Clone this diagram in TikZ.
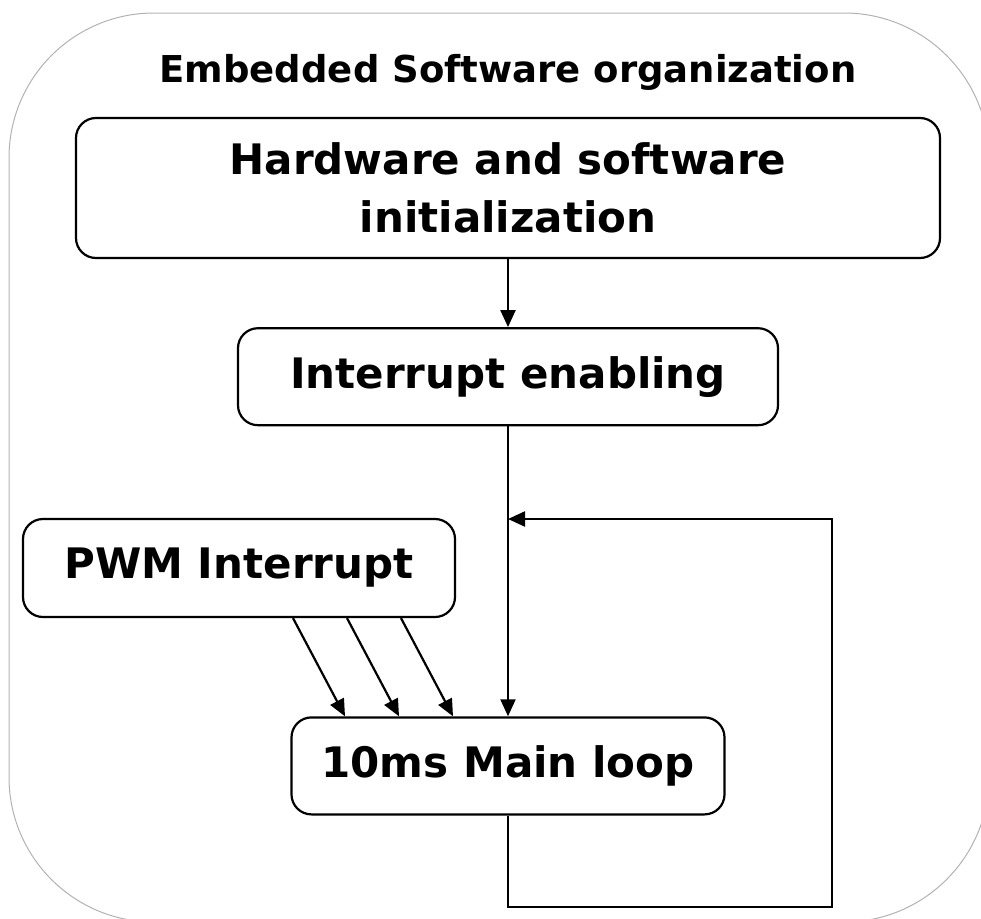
\documentclass[tikz,border=0pt]{standalone}
\usepackage{fontspec}
\setmainfont{DejaVu Sans}
\usepackage{tikz}
\usetikzlibrary{arrows.meta,positioning}

\begin{document}
\begin{tikzpicture}[
  x=1pt,y=-1pt,
  box/.style={draw,rounded corners=20pt,line width=2.2pt,align=center,
    font=\fontsize{42pt}{58pt}\selectfont\bfseries,inner sep=0pt},
  arr/.style={-{Triangle[length=17pt,width=15pt]},line width=2.2pt}
]
\useasboundingbox (0,0) rectangle (981,918);
\clip (0,0) rectangle (981,918);
% frame
\draw[gray!60,line width=1pt,rounded corners=145pt] (9,13) rectangle (989,922);
\node[anchor=base,font=\fontsize{37pt}{44pt}\selectfont\bfseries] (title) at (508,82) {Embedded Software organization};
\node[box,minimum width=864pt,minimum height=140pt] (hwinit) at (508,188) {Hardware and software\\initialization};
\node[box,minimum width=540pt,minimum height=97pt,below=68pt of hwinit] (irqen) {Interrupt enabling};
\node[box,minimum width=433pt,minimum height=97pt,below=290pt of irqen] (mainloop) {10ms Main loop};
\node[box,minimum width=432pt,minimum height=98pt] (pwm) at (239,568) {PWM Interrupt};
\coordinate (loopdown) at (832,907);
\coordinate (loopjoin) at (508,519);
\draw[arr] (hwinit) -- (irqen);
\draw[arr] (irqen) -- (mainloop);
\draw[arr] (mainloop.south) |- (loopdown) |- (loopjoin);
\foreach \k in {1,2,3}
  \draw[arr] ([xshift=\k*54pt]pwm.south) -- ([xshift=\k*54pt-217pt]mainloop.north);
\end{tikzpicture}
\end{document}
